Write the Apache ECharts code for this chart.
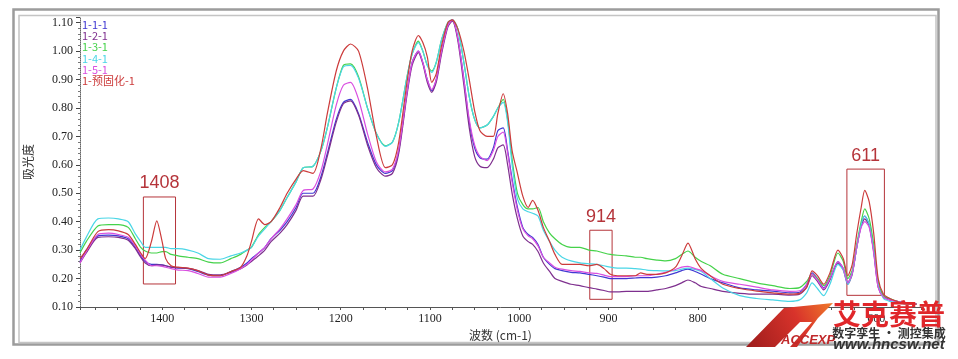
<!DOCTYPE html>
<html><head><meta charset="utf-8">
<script src="https://cdn.jsdelivr.net/npm/echarts@6/dist/echarts.min.js"></script>
<style>html,body{margin:0;padding:0;background:#fff}#c{width:958px;height:359px}</style>
</head><body><div id="c"></div>
<script>
const wavenumbers = [
1492,1485,1472,1460,1449,1438,1430,1424,1419,1412,
1406,1400,1396,1390,1382,1371,1360,1348,1335,1323,
1312,1305,1300,1292,1285,1278,1268,1260,1250,1242,
1231,1222,1215,1205,1197,1189,1180,1170,1160,1150,
1142,1135,1126,1120,1113,1108,1103,1098,1093,1087,
1080,1075,1069,1062,1056,1050,1044,1036,1029,1024,
1018,1013,1008,1002,996,990,985,979,973,966,
960,952,942,932,922,913,905,898,890,880,
870,864,857,846,836,825,818,811,803,796,
786,772,753,734,716,697,686,678,672,666,
659,652,643,637,632,627,622,617,613,608,
603,598,592,585,577,566,555];

const s111 = [
0.26,0.30,0.35,0.353,0.35,0.34,0.31,0.28,0.26,0.25,
0.25,0.248,0.245,0.24,0.237,0.235,0.225,0.212,0.21,0.225,
0.24,0.255,0.27,0.29,0.31,0.34,0.37,0.40,0.45,0.50,
0.50,0.56,0.64,0.76,0.82,0.83,0.78,0.68,0.60,0.57,
0.58,0.65,0.85,0.96,1.00,0.96,0.90,0.86,0.90,1.00,
1.09,1.11,1.05,0.90,0.75,0.66,0.625,0.62,0.66,0.72,
0.73,0.65,0.55,0.45,0.38,0.355,0.345,0.32,0.275,0.25,
0.235,0.228,0.222,0.22,0.215,0.21,0.205,0.20,0.20,0.20,
0.202,0.203,0.203,0.205,0.21,0.22,0.228,0.233,0.225,0.215,
0.20,0.185,0.167,0.16,0.156,0.15,0.152,0.18,0.22,0.20,
0.167,0.20,0.26,0.235,0.185,0.22,0.31,0.39,0.42,0.39,
0.30,0.18,0.14,0.125,0.12,0.115,0.11];

const s121 = [
0.255,0.29,0.345,0.347,0.345,0.335,0.305,0.275,0.255,0.245,
0.248,0.247,0.245,0.24,0.238,0.236,0.228,0.215,0.213,0.222,
0.235,0.248,0.26,0.28,0.30,0.33,0.36,0.39,0.44,0.49,
0.49,0.55,0.63,0.75,0.815,0.825,0.775,0.67,0.59,0.56,
0.57,0.64,0.84,0.95,0.995,0.955,0.89,0.855,0.89,0.99,
1.085,1.105,1.04,0.88,0.73,0.63,0.595,0.59,0.62,0.66,
0.67,0.60,0.50,0.41,0.35,0.33,0.32,0.295,0.255,0.225,
0.20,0.19,0.18,0.175,0.168,0.163,0.158,0.153,0.153,0.155,
0.155,0.155,0.155,0.16,0.165,0.175,0.185,0.195,0.185,0.172,
0.165,0.155,0.148,0.145,0.145,0.142,0.145,0.17,0.21,0.19,
0.16,0.195,0.255,0.23,0.18,0.215,0.31,0.385,0.41,0.385,
0.295,0.17,0.135,0.125,0.12,0.115,0.11];

const s131 = [
0.29,0.33,0.385,0.39,0.39,0.38,0.34,0.31,0.297,0.29,
0.29,0.295,0.295,0.285,0.28,0.275,0.27,0.258,0.255,0.27,
0.285,0.30,0.31,0.355,0.38,0.40,0.44,0.485,0.54,0.59,
0.595,0.65,0.73,0.87,0.95,0.955,0.91,0.80,0.71,0.667,
0.68,0.75,0.905,0.99,1.035,1.00,0.95,0.93,0.96,1.04,
1.10,1.11,1.08,0.96,0.84,0.76,0.73,0.74,0.77,0.80,
0.83,0.76,0.62,0.50,0.46,0.445,0.445,0.45,0.40,0.36,
0.34,0.32,0.31,0.31,0.30,0.297,0.29,0.285,0.282,0.28,
0.275,0.275,0.27,0.265,0.262,0.27,0.285,0.297,0.275,0.26,
0.245,0.215,0.20,0.185,0.175,0.165,0.168,0.19,0.215,0.20,
0.175,0.21,0.29,0.26,0.20,0.23,0.32,0.40,0.445,0.41,
0.32,0.19,0.14,0.13,0.12,0.115,0.11];

const s141 = [
0.30,0.345,0.41,0.413,0.41,0.40,0.357,0.33,0.31,0.31,
0.31,0.31,0.31,0.305,0.305,0.30,0.29,0.27,0.268,0.28,
0.29,0.30,0.31,0.35,0.375,0.40,0.44,0.485,0.54,0.59,
0.595,0.65,0.73,0.87,0.945,0.95,0.905,0.80,0.71,0.665,
0.68,0.75,0.905,0.99,1.03,1.00,0.95,0.925,0.96,1.04,
1.10,1.11,1.08,0.96,0.84,0.76,0.73,0.74,0.77,0.80,
0.82,0.75,0.60,0.48,0.445,0.435,0.43,0.42,0.37,0.33,
0.30,0.275,0.262,0.255,0.252,0.25,0.245,0.24,0.237,0.237,
0.235,0.233,0.23,0.228,0.227,0.228,0.233,0.237,0.232,0.225,
0.20,0.167,0.14,0.13,0.125,0.12,0.125,0.15,0.185,0.165,
0.14,0.18,0.25,0.23,0.18,0.22,0.31,0.39,0.42,0.39,
0.30,0.18,0.13,0.12,0.115,0.11,0.11];

const s151 = [
0.255,0.295,0.355,0.36,0.355,0.345,0.315,0.285,0.265,0.245,
0.245,0.243,0.24,0.235,0.23,0.228,0.218,0.205,0.205,0.218,
0.235,0.25,0.265,0.29,0.31,0.34,0.375,0.41,0.46,0.51,
0.515,0.58,0.67,0.81,0.88,0.89,0.83,0.71,0.61,0.575,
0.585,0.655,0.85,0.96,1.00,0.96,0.90,0.865,0.90,1.00,
1.09,1.11,1.05,0.90,0.76,0.67,0.63,0.615,0.65,0.70,
0.715,0.64,0.54,0.44,0.375,0.35,0.34,0.315,0.275,0.255,
0.24,0.233,0.228,0.225,0.22,0.218,0.212,0.207,0.207,0.207,
0.21,0.21,0.21,0.215,0.222,0.232,0.24,0.243,0.235,0.228,
0.21,0.19,0.18,0.17,0.16,0.155,0.157,0.18,0.215,0.195,
0.165,0.20,0.26,0.235,0.185,0.22,0.31,0.38,0.40,0.38,
0.29,0.17,0.135,0.125,0.12,0.115,0.11];

const sPre = [
0.27,0.30,0.365,0.372,0.368,0.355,0.32,0.29,0.27,0.33,
0.403,0.33,0.27,0.245,0.24,0.237,0.228,0.212,0.21,0.225,
0.24,0.28,0.33,0.41,0.39,0.40,0.45,0.50,0.55,0.58,
0.57,0.66,0.78,0.93,1.00,1.025,1.00,0.87,0.70,0.59,
0.60,0.68,0.885,1.00,1.055,1.03,0.98,0.89,0.92,1.02,
1.10,1.11,1.08,1.00,0.90,0.79,0.72,0.70,0.70,0.78,
0.85,0.78,0.65,0.57,0.49,0.45,0.475,0.44,0.38,0.33,
0.285,0.25,0.25,0.25,0.245,0.25,0.235,0.215,0.21,0.21,
0.21,0.22,0.215,0.215,0.22,0.24,0.28,0.325,0.27,0.235,
0.21,0.18,0.165,0.156,0.15,0.145,0.148,0.17,0.227,0.21,
0.18,0.22,0.30,0.27,0.21,0.25,0.357,0.45,0.51,0.47,
0.36,0.20,0.145,0.13,0.12,0.11,0.11];

const seriesNames = ['1-1-1','1-2-1','1-3-1','1-4-1','1-5-1','1-预固化-1'];
const seriesColors = ['#4038d2','#7e2f8e','#45d24a','#4ad6e6','#d94fe0','#cc3b3b'];
const seriesValues = [s111, s121, s131, s141, s151, sPre];

// annotation boxes: label, wavenumber range, absorbance range
const boxLabels = ['1408','914','611'];
const boxX = [[1421,1385],[921,896],[633,591]];
const boxY = [[0.487,0.181],[0.370,0.127],[0.585,0.141]];

const yTicks = [0.1,0.2,0.3,0.4,0.5,0.6,0.7,0.8,0.9,1.0,1.1];

const chart = echarts.init(document.getElementById('c'));
const annoColor = '#b5343a';
const series = seriesNames.map((n,i)=>({
  name:n, type:'line', showSymbol:false, smooth:0.25, z: 2+i,
  lineStyle:{width:1.2, color:seriesColors[i]}, itemStyle:{color:seriesColors[i]},
  data: wavenumbers.map((w,k)=>[w, seriesValues[i][k]]),
  emphasis:{disabled:true}
}));
series[5].markArea = {
  silent:true,
  itemStyle:{color:'rgba(0,0,0,0)', borderColor:annoColor, borderWidth:1},
  label:{show:true, position:'top', distance:4, color:annoColor, fontSize:18, fontFamily:'Liberation Sans'},
  data: boxLabels.map((l,i)=>[{name:l, xAxis:boxX[i][0], yAxis:boxY[i][0]},{xAxis:boxX[i][1], yAxis:boxY[i][1]}])
};

const axisFont = {fontFamily:'Liberation Serif', fontSize:12, color:'#222'};
chart.setOption({
  animation:false,
  backgroundColor:'#fff',
  grid:{left:80, right:37, top:17, bottom:52},
  legend:{
    orient:'vertical', left:77, top:19, itemGap:0.3, itemWidth:0, itemHeight:11, padding:0,
    icon:'none', selectedMode:false,
    textStyle:{fontSize:11, fontFamily:'Noto Sans CJK SC'},
    data: seriesNames.map((n,i)=>({name:n, textStyle:{color:seriesColors[i]}}))
  },
  xAxis:{
    type:'value', inverse:true, min:550, max:1492, interval:25,
    name:'波数 (cm-1)', nameLocation:'middle', nameGap:21,
    nameTextStyle:{fontFamily:'Noto Sans CJK SC', fontSize:12, color:'#333'},
    axisLine:{lineStyle:{color:'#555', width:1}},
    axisTick:{show:true, length:3, lineStyle:{color:'#555'}},
    splitLine:{show:false},
    axisLabel:Object.assign({margin:6, formatter:v=> (v%100===0 ? String(v) : '')}, axisFont)
  },
  yAxis:{
    type:'value', min:0.1, max:1.12, interval:0.1,
    name:'吸光度', nameLocation:'middle', nameGap:46, nameRotate:90,
    nameTextStyle:{fontFamily:'Noto Sans CJK SC', fontSize:12, color:'#333'},
    axisLine:{show:true, lineStyle:{color:'#666', width:1, type:'dotted'}},
    axisTick:{show:true, length:4, lineStyle:{color:'#444'}},
    minorTick:{show:true, splitNumber:5, length:2, lineStyle:{color:'#777'}},
    splitLine:{show:false},
    axisLabel:Object.assign({margin:7, formatter:v=>{const t=yTicks.find(y=>Math.abs(y-v)<1e-6);return t===undefined?'':t.toFixed(2);}}, axisFont)
  },
  series: series,
  graphic:[
    {type:'rect', z:-10, silent:true, shape:{x:13.5,y:9.5,width:925,height:335}, style:{fill:'none', stroke:'#9c9c9c', lineWidth:2.5}},
    {type:'rect', z:-10, silent:true, shape:{x:19,y:15.5,width:917,height:327}, style:{fill:'none', stroke:'#c4c4c4', lineWidth:1.5}},
    {type:'polygon', z:100, silent:true, shape:{points:[[746,347],[784,308],[833,303],[818,318],[797,347]]},
      style:{fill:new echarts.graphic.LinearGradient(0,1,1,0,[{offset:0,color:'#9c1c1c'},{offset:0.6,color:'#d8332b'},{offset:1,color:'#f07a2a'}])}},
    {type:'polygon', z:101, silent:true, shape:{points:[[775,347],[800,322],[812,322],[790,347]]}, style:{fill:'#ffffff'}},
    {type:'text', z:102, silent:true, style:{x:781, y:347, text:'ACCEXP', fill:'#c0282a', font:'italic bold 13px Liberation Sans', textAlign:'left', textVerticalAlign:'bottom'}},
    {type:'text', z:102, silent:true, style:{x:889, y:314, text:'艾克赛普', fill:'#e0262a', font:'bold 28px "Noto Sans CJK SC"', textAlign:'center', textVerticalAlign:'middle'}},
    {type:'text', z:102, silent:true, style:{x:889, y:333, text:'数字孪生 · 测控集成', fill:'#333', font:'bold 12px "Noto Sans CJK SC"', textAlign:'center', textVerticalAlign:'middle'}},
    {type:'text', z:102, silent:true, style:{x:889, y:345, text:'www.hncsw.net', fill:'#333', font:'italic bold 15px Liberation Sans', textAlign:'center', textVerticalAlign:'middle'}}
  ]
});
</script></body></html>
